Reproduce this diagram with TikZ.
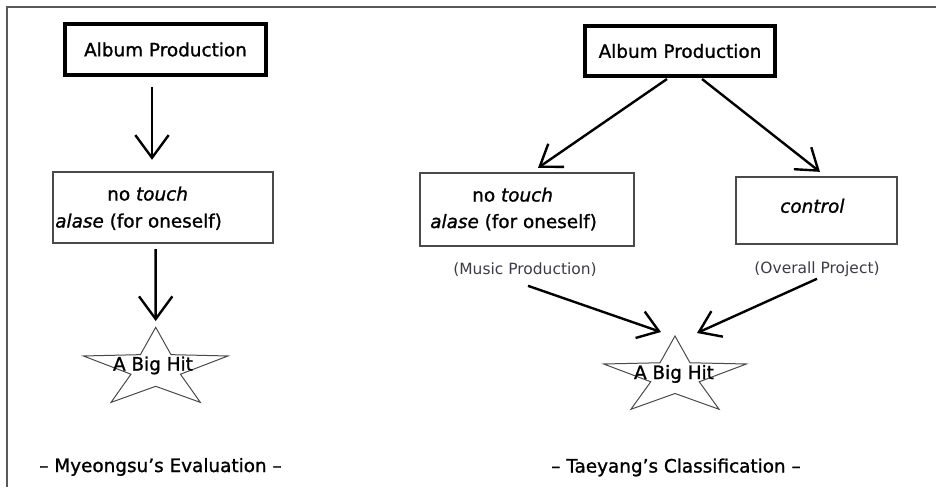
\documentclass[tikz,border=0pt]{standalone}
\usepackage{fontspec}
\setmainfont{DejaVu Sans}[BoldFont={DejaVu Sans}, BoldItalicFont={DejaVu Sans Oblique}, BoldFeatures={FakeBold=1.2}, BoldItalicFeatures={FakeBold=1.2}]
\usetikzlibrary{arrows.meta,calc}
\definecolor{framegray}{HTML}{5A5A5A}
\definecolor{boxgray}{HTML}{4A4A4A}
\definecolor{notegray}{HTML}{3C3C46}
\begin{document}
\begin{tikzpicture}[x=0.75pt,y=-0.75pt,
  titlebox/.style={draw=black, line width=3pt, inner sep=0pt, font=\fontsize{13.8}{16}\selectfont\bfseries},
  plainbox/.style={draw=boxgray, line width=0.9pt, inner sep=0pt},
  txt/.style={inner sep=0pt, anchor=base west, font=\fontsize{13.8}{16}\selectfont\bfseries},
  note/.style={inner sep=0pt, anchor=base, text=notegray, font=\fontsize{11.6}{14}\selectfont},
  hit/.style={inner sep=0pt, anchor=base, font=\fontsize{13.8}{16}\selectfont\bfseries},
  captext/.style={inner sep=0pt, anchor=base, font=\fontsize{13.8}{16}\selectfont\bfseries},
  bigarr/.style={line width=1.8pt, -{Straight Barb[length=17pt,width=25pt]}},
  arr/.style={line width=1.8pt, -{Straight Barb[length=15pt,width=21pt]}},
  starline/.style={draw=boxgray, line width=0.75pt, fill=white},
]
\useasboundingbox (0,0) rectangle (936,487);
\draw[framegray, line width=1.5pt] (7,487) -- (7,7) -- (936,7);

% title boxes
\node[titlebox, minimum width=150.75pt, minimum height=38.25pt] (albL) at (165.5,49.5) {Album Production};
\node[titlebox, minimum width=142.5pt, minimum height=37.5pt] (albR) at (680,51) {Album Production};

% plain boxes
\node[plainbox, minimum width=165pt, minimum height=53.25pt] (b2L) at (163,207.5) {};
\node[plainbox, minimum width=160.5pt, minimum height=54.75pt] (b2R) at (527,209.5) {};
\node[plainbox, minimum width=120.75pt, minimum height=50.25pt] (ctl) at (816.5,210.5) {};

% box texts
\node[txt] (ntL) at (107,200.5) {no \textit{touch}};
\node[txt] (alL) at (55,227.5) {\textit{alase} (for oneself)};
\node[txt] (ntR) at (472,201.5) {no \textit{touch}};
\node[txt] (alR) at (430,228) {\textit{alase} (for oneself)};
\node[txt] (ctlT) at (780,212.7) {\textit{control}};

% stars
\path[starline, shift={(155.7,368.8)}]
  (-90:76 and 41.5) -- (-126:26 and 17.5) -- (-162:76 and 41.5) -- (-198:26 and 17.5)
  -- (-234:76 and 41.5) -- (-270:26 and 17.5) -- (-306:76 and 41.5) -- (-342:26 and 17.5)
  -- (-18:76 and 41.5) -- (-54:26 and 17.5) -- cycle;
\path[starline, shift={(675,376.5)}]
  (-90:75 and 40.5) -- (-126:25.5 and 17) -- (-162:75 and 40.5) -- (-198:25.5 and 17)
  -- (-234:75 and 40.5) -- (-270:25.5 and 17) -- (-306:75 and 40.5) -- (-342:25.5 and 17)
  -- (-18:75 and 40.5) -- (-54:25.5 and 17) -- cycle;
\coordinate (starL) at (155.7,327.3);
\coordinate (starR) at (675,336);

\node[hit] (hitL) at (153,370.5) {A Big Hit};
\node[hit] (hitR) at (674,379) {A Big Hit};

% notes
\node[note] (mus) at (525,274.5) {(Music Production)};
\node[note] (ovr) at (817,273.3) {(Overall Project)};

% captions
\node[captext] (capL) at (160.5,472) {– Myeongsu’s Evaluation –};
\node[captext] (capR) at (676,472.5) {– Taeyang’s Classification –};

% arrows
\draw[bigarr, shorten <=7.5pt, shorten >=8.7pt] ([xshift=-10.125pt]albL.south) -- ([xshift=-8.25pt]b2L.north);
\draw[bigarr, shorten <=4.1pt, shorten >=4.7pt] ([xshift=-5.5pt]b2L.south) -- (starL);
\draw[arr] ([xshift=-9.75pt,yshift=-0.75pt]albR.south) -- ([xshift=8.25pt,yshift=3.4pt]b2R.north);
\draw[arr] ([xshift=16.5pt,yshift=-0.75pt]albR.south) -- ([xshift=2.6pt,yshift=3.4pt]ctl.north);
\draw[arr] ([xshift=2.25pt,yshift=-6.75pt]mus.south) -- ([xshift=-10.5pt,yshift=3pt]starR);
\draw[arr] ([yshift=-1.5pt]ovr.south) -- ([xshift=16.5pt,yshift=2.25pt]starR);
\end{tikzpicture}
\end{document}
